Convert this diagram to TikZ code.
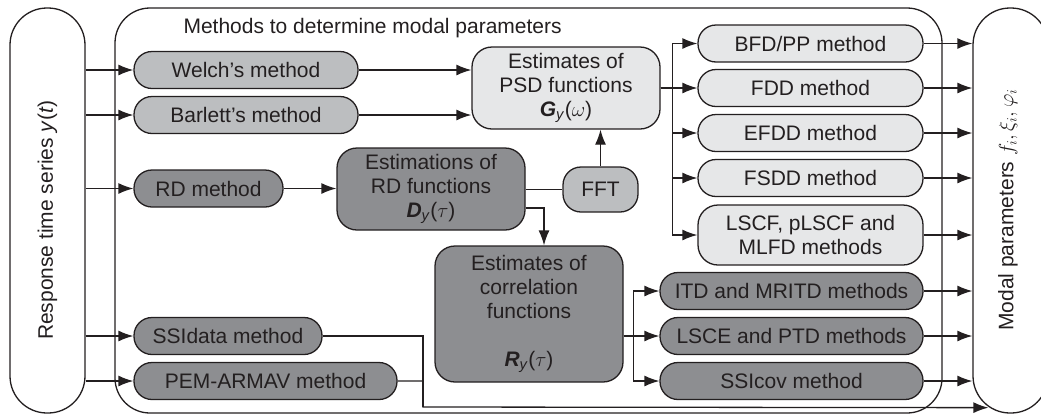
\documentclass[tikz,border=0pt]{standalone}
\usepackage{fontspec}
\setmainfont{Liberation Sans}
\usetikzlibrary{
  positioning,
  calc,
  arrows.meta
  }
\definecolor{boxlight}{HTML}{E6E7E8}
\definecolor{boxmid}{HTML}{BCBEC0}
\definecolor{boxdark}{HTML}{8D8E91}
\definecolor{ink}{HTML}{231F20}
\tikzset{
  >={Latex[length=15pt,width=11pt]},
  wire/.style={line width=1.3pt, draw=ink},
  lab/.style={font=\fontsize{21}{24}\selectfont, text=ink},
  outline/.style={draw=ink, line width=1.3pt, inner sep=0pt},
  method/.style={lab, draw=ink, line width=1.3pt, rounded corners=18pt, minimum height=37pt, inner sep=0pt, align=center},
  estbox/.style={lab, draw=ink, line width=1.3pt, rounded corners=20pt, inner sep=0pt, align=center},
}

\begin{document}
\begin{tikzpicture}[x=1pt, y=-1pt]
  \useasboundingbox (0,0) rectangle (1041,416);
% =========================================================
% (A) outer frames
% =========================================================
  \node[outline, rounded corners=37pt, minimum width=75pt, minimum height=405pt] (resp) at (47.5,210.5) {};
  \node[lab, rotate=90] (resplab) at (47.5,220) {Response time series \textit{y}(\textit{t})};
  \node[outline, rounded corners=35pt, minimum width=827pt, minimum height=405pt] (frame) at (528.5,210.5) {};
  \node[lab, anchor=west] (title) at (180,28) {Methods to determine modal parameters};
  \node[outline, rounded corners=37pt, minimum width=75pt, minimum height=405pt] (modal) at (1010.5,210.5) {};
  \node[lab, rotate=90] (modallab) at (1008,210) {Modal parameters $f_i, \xi_i, \varphi_i$};
% =========================================================
% (B) methods on the time series
% =========================================================
  \node[method, fill=boxmid, minimum width=224pt] (welch) at (246,70) {Welch's method};
  \node[method, fill=boxmid, minimum width=224pt] (barlett) at (246,115) {Barlett's method};
  \node[method, fill=boxdark, minimum width=149pt] (rdm) at (208.5,188.5) {RD method};
  \node[method, fill=boxdark, minimum width=188pt] (ssid) at (228,336) {SSIdata method};
  \node[method, fill=boxdark, minimum width=263pt] (pem) at (265.5,381) {PEM-ARMAV method};
  \foreach \nm in {welch,barlett,rdm,ssid,pem}
    \draw[wire,->] (\nm.west -| resp.east) -- (\nm.west);
% =========================================================
% (C) estimated functions
% =========================================================
  \node[estbox, fill=boxlight, minimum width=188pt, minimum height=82pt] (psd) at (566,88)
    {Estimates of\\PSD functions\\\textbf{\textit{G}}\textsubscript{\textit{y}}($\omega$)};
  \node[estbox, fill=boxdark, minimum width=188pt, minimum height=82pt] (rdf) at (431,189)
    {Estimations of\\RD functions\\\textbf{\textit{D}}\textsubscript{\textit{y}}($\tau$)};
  \node[method, fill=boxmid, minimum width=75pt, minimum height=45pt] (fft) at (600.5,189.5) {FFT};
  \node[estbox, fill=boxdark, minimum width=188pt, minimum height=136pt] (corr) at (529,314)
    {Estimates of\\correlation\\functions\\[24pt]\textbf{\textit{R}}\textsubscript{\textit{y}}($\tau$)};
  \draw[wire,->] (welch.east) -- (welch.east -| psd.west);
  \draw[wire,->] (barlett.east) -- (barlett.east -| psd.west);
  \draw[wire,->] (rdm.east) -- (rdm.east -| rdf.west);
  \draw[wire] (rdf.east |- fft.west) -- (fft.west);
  \draw[wire,->] (fft.north) -- (fft.north |- psd.south);
  \draw[wire,->] ([yshift=-19pt]rdf.east) -| ([xshift=15pt]corr.north);
% =========================================================
% (D) identification methods
% =========================================================
  \foreach \nm/\yy/\txt in {bfd/43.5/{BFD/PP method}, fdd/88/{FDD method}, efdd/133/{EFDD method}, fsdd/178/{FSDD method}}
    \node[method, fill=boxlight, minimum width=225pt] (\nm) at (810.5,\yy) {\txt};
  \node[estbox, fill=boxlight, minimum width=225pt, minimum height=60pt] (lscf) at (810.5,235) {LSCF, pLSCF and\\MLFD methods};
  \foreach \nm/\yy/\txt in {itd/291/{ITD and MRITD methods}, lsce/336/{LSCE and PTD methods}, ssic/381/{SSIcov method}}
    \node[method, fill=boxdark, minimum width=263pt] (\nm) at (791.5,\yy) {\txt};
  \foreach \nm in {bfd,fdd,efdd,fsdd,lscf}
    \draw[wire,->] (psd.east) -- ([xshift=12pt]psd.east) |- (\nm.west);
  \foreach \nm in {itd,lsce,ssic}
    \draw[wire,->] (corr.east |- lsce.west) -- ++(10,0) |- (\nm.west);
  \foreach \nm in {bfd,fdd,efdd,fsdd,lscf,itd,lsce,ssic}
    \draw[wire,->] (\nm.east) -- (\nm.east -| modal.west);
% =========================================================
% (E) direct path of SSIdata and PEM-ARMAV
% =========================================================
  \coordinate (merge) at (423,407);
  \draw[wire] (ssid.east) -| (merge);
  \draw[wire,->] (pem.east) -| (merge) -- ([xshift=16pt,yshift=6pt]modal.south west);
\end{tikzpicture}
\end{document}
